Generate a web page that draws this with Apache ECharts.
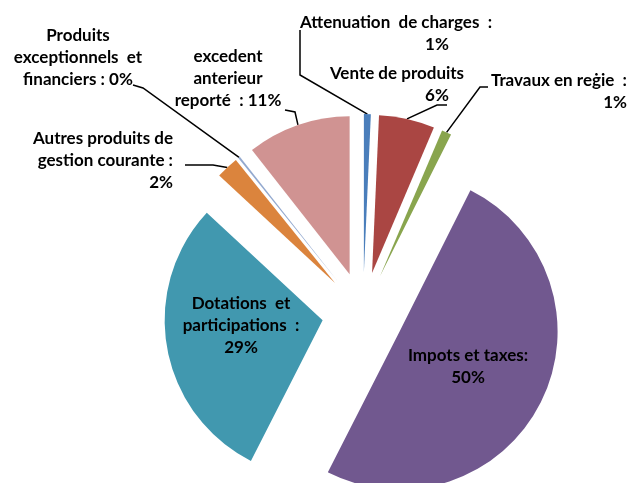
<!DOCTYPE html>
<html>
<head>
<meta charset="utf-8">
<script src="https://cdn.jsdelivr.net/npm/echarts@6/dist/echarts.min.js"></script>
<style>
	html, body { margin: 0; padding: 0; background: #fff; }
	#chart { width: 632px; height: 483px; }
</style>
</head>
<body>
<div id="chart"></div>
<script>
// slices, clockwise from 12 o'clock
var categories = [
	"Attenuation de charges",
	"Vente de produits",
	"Travaux en régie",
	"Impots et taxes",
	"Dotations et participations",
	"Autres produits de gestion courante",
	"Produits exceptionnels et financiers",
	"excedent anterieur reporté"
];
var shares = [0.7, 5.7, 1.0, 50.1, 29.4, 2.3, 0.2, 10.6];

// label text as it wraps on the picture, {d} = percent
var labelTexts = [
	"Attenuation  de charges  :\n{s1|{d}}",
	"Vente de produits\n{s2|{d}}",
	"Travaux en reġie  :\n{d}",
	"Impots et taxes:\n{d}",
	"Dotations  et\nparticipations  :\n{d}",
	"Autres produits de\ngestion courante :\n{d}",
	"Produits\nexceptionnels  et\nfinanciers : {d}",
	"excedent\nanterieur\nreporté  : {d}"
];

var colors = ["#4a7ebb", "#aa4643", "#89a54e", "#71588f", "#4198af", "#db843d", "#93a9cf", "#d09392"];

var CENTER = [363, 313];
var RADIUS = 158;
var EXPLODE = 41;

// where the labels sit and how their leader lines bend (no elbow = no line)
var labelLayouts = [
	{ x: 396, y: 34, align: "center", elbow: [300, 75], end: [300, 30] },
	{ x: 397, y: 85, align: "center", elbow: [437, 105], end: [447, 105] },
	{ x: 627, y: 92, align: "right", elbow: [480, 87], end: [488, 87] },
	{ x: 468, y: 367, align: "center" },
	{ x: 241, y: 326, align: "center" },
	{ x: 173, y: 161, align: "right", elbow: [213, 165], end: [185, 165] },
	{ x: 78, y: 58, align: "center", elbow: [143, 88], end: [133, 85] },
	{ x: 228, y: 79, align: "center", elbow: [295, 112], end: [285, 110] }
];

var chart = echarts.init(document.getElementById("chart"));

var option = {
	animation: false,
	backgroundColor: "#fff",
	series: [
		{
			// the exploded slices
			type: "pie",
			center: CENTER,
			radius: RADIUS,
			startAngle: 90,
			clockwise: true,
			selectedMode: "multiple",
			selectedOffset: EXPLODE,
			silent: true,
			emphasis: { disabled: true },
			itemStyle: { borderWidth: 0 },
			label: { show: false },
			labelLine: { show: false },
			data: categories.map(function (name, i) {
				return { name: name, value: shares[i], selected: true, itemStyle: { color: colors[i] } };
			})
		},
		{
			// same pie, invisible, carrying the labels
			type: "pie",
			center: CENTER,
			radius: RADIUS,
			startAngle: 90,
			clockwise: true,
			silent: true,
			avoidLabelOverlap: false,
			percentPrecision: 0,
			emphasis: { disabled: true },
			itemStyle: { color: "rgba(0,0,0,0)", borderWidth: 0 },
			label: {
				show: true,
				position: "outside",
				color: "#000",
				fontFamily: "Lato",
				fontWeight: "bold",
				fontSize: 17,
				lineHeight: 22,
				formatter: function (p) {
					return labelTexts[p.dataIndex].replace("{d}", p.percent + "%");
				},
				rich: {
					s1: { padding: [0, 0, 0, 82] },
					s2: { padding: [0, 0, 0, 80] }
				}
			},
			labelLine: {
				show: true,
				length: 10,
				length2: 10,
				lineStyle: { color: "#000", width: 1.5 }
			},
			labelLayout: function (params) {
				var lay = labelLayouts[params.dataIndex];
				var out = { x: lay.x, y: lay.y, align: lay.align, verticalAlign: "middle" };
				if (lay.elbow && params.labelLinePoints) {
					// start the line on the exploded slice edge
					var p0 = params.labelLinePoints[0];
					var dx = p0[0] - CENTER[0], dy = p0[1] - CENTER[1];
					var len = Math.sqrt(dx * dx + dy * dy) || 1;
					var start = [p0[0] + dx / len * EXPLODE, p0[1] + dy / len * EXPLODE];
					out.labelLinePoints = [start, lay.elbow, lay.end];
				}
				return out;
			},
			data: categories.map(function (name, i) {
				var item = { name: name, value: shares[i] };
				if (!labelLayouts[i].elbow) {
					item.labelLine = { show: false };
				}
				return item;
			})
		}
	]
};

chart.setOption(option);
</script>
</body>
</html>
